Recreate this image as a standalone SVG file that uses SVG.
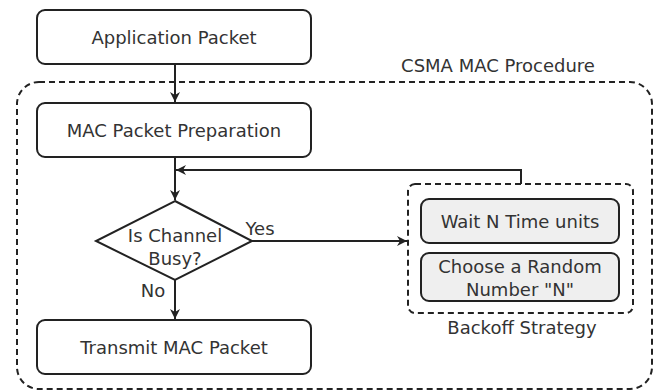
<svg xmlns="http://www.w3.org/2000/svg" width="655" height="391" viewBox="0 0 655 391">
<style>
text{font-family:"DejaVu Sans",sans-serif;font-size:18px;fill:#333;text-anchor:middle;dominant-baseline:central}
.box{fill:#fff;stroke:#222;stroke-width:2}
.gray{fill:#efefef;stroke:#222;stroke-width:2}
.dash{fill:none;stroke:#222;stroke-width:2;stroke-dasharray:6,4}
.line{fill:none;stroke:#222;stroke-width:2}
</style>
<defs>
<marker id="arr" viewBox="0 0 10 10" refX="10" refY="5" markerWidth="10" markerHeight="10" markerUnits="userSpaceOnUse" orient="auto">
<path d="M0,0 L10,5 L0,10 L3,5 z" fill="#222"/>
</marker>
</defs>
<rect id="procedure" class="dash" x="17" y="82" width="635" height="307" rx="22"/>
<text x="498" y="65">CSMA MAC Procedure</text>
<g id="app"><rect class="box" x="37" y="10" width="274" height="54" rx="8"/><text x="174" y="37">Application Packet</text></g>
<g id="prep"><rect class="box" x="37" y="103" width="274" height="54" rx="8"/><text x="174" y="130">MAC Packet Preparation</text></g>
<g id="busy"><polygon class="box" points="175,201 252,241 175,280 96,241"/><text x="175" y="235">Is Channel</text><text x="175" y="258">Busy?</text></g>
<g id="transmit"><rect class="box" x="37" y="320" width="274" height="54" rx="8"/><text x="174" y="347">Transmit MAC Packet</text></g>
<g id="backoff"><rect class="dash" x="408" y="184" width="225" height="129" rx="7"/>
<text x="522" y="327">Backoff Strategy</text>
<g id="wait"><rect class="gray" x="421" y="199" width="198" height="44" rx="8"/><text x="520" y="221">Wait N Time units</text></g>
<g id="choose"><rect class="gray" x="421" y="253" width="198" height="48" rx="8"/><text x="520" y="266">Choose a Random</text><text x="520" y="289">Number "N"</text></g>
</g>
<g id="connectors">
<line class="line" x1="175" y1="64" x2="175" y2="102" marker-end="url(#arr)"/>
<line class="line" x1="175" y1="157" x2="175" y2="200" marker-end="url(#arr)"/>
<polyline class="line" points="521,184 521,170 176,170" marker-end="url(#arr)"/>
<line class="line" x1="175" y1="280" x2="175" y2="319" marker-end="url(#arr)"/>
<line class="line" x1="252" y1="241" x2="407" y2="241" marker-end="url(#arr)"/>
<text x="260" y="228">Yes</text>
<text x="153" y="290">No</text>
</g>
</svg>
